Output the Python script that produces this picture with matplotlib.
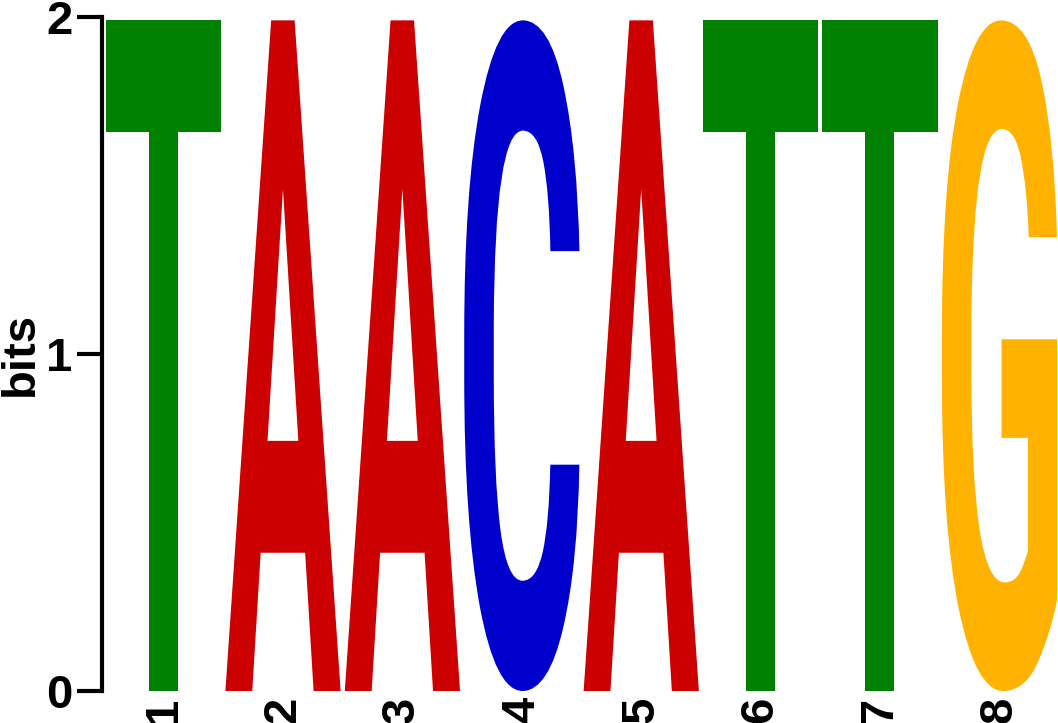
import matplotlib
matplotlib.use("Agg")
import matplotlib.pyplot as plt
from matplotlib.textpath import TextPath
from matplotlib.patches import PathPatch
from matplotlib.font_manager import FontProperties
from matplotlib.transforms import Affine2D

positions = [1, 2, 3, 4, 5, 6, 7, 8]
letters = ['T', 'A', 'A', 'C', 'A', 'T', 'T', 'G']
bits = [1.99, 1.99, 1.99, 1.99, 1.99, 1.99, 1.99, 1.99]
colors = {'A': '#CC0000', 'C': '#0000CC', 'G': '#FFB300', 'T': '#008000'}
yticks = [0, 1, 2]

fig = plt.figure(figsize=(10.58, 7.23), dpi=100)
ax = fig.add_axes([101.5 / 1058, 32 / 723, (1058 - 101.5) / 1058, 674 / 723])

fp = FontProperties(family=['Liberation Sans', 'DejaVu Sans'], weight='bold')
fp_logo = FontProperties(family=['Roboto', 'Liberation Sans'], weight='bold')
width = 0.965
for pos, let, h in zip(positions, letters, bits):
    tp = TextPath((0, 0), let, size=1, prop=fp_logo)
    bb = tp.get_extents()
    tr = (Affine2D().translate(-bb.x0, -bb.y0)
          .scale(width / bb.width, h / bb.height)
          .translate(pos - width / 2, 0))
    path = tr.transform_path(tp)
    ax.add_patch(PathPatch(path, facecolor=colors[let], edgecolor='none',
                           transform=ax.transData))

ax.set_xlim(0.48, 8.49)
ax.set_ylim(0, 2)
for s in ['top', 'right', 'bottom']:
    ax.spines[s].set_visible(False)
ax.spines['left'].set_linewidth(3)
ax.set_yticks(yticks)
ax.set_yticklabels([str(t) for t in yticks], fontproperties=fp, fontsize=34)
ax.tick_params(axis='y', length=18, width=3, pad=3)
ax.set_xticks(positions)
ax.set_xticklabels([str(p) for p in positions], fontproperties=fp, fontsize=34,
                   rotation=90, va='top', ha='center')
ax.tick_params(axis='x', length=0, pad=4)
ax.set_ylabel('bits', fontproperties=fp, fontsize=34, labelpad=2)

fig.savefig('out.png', dpi=100)
